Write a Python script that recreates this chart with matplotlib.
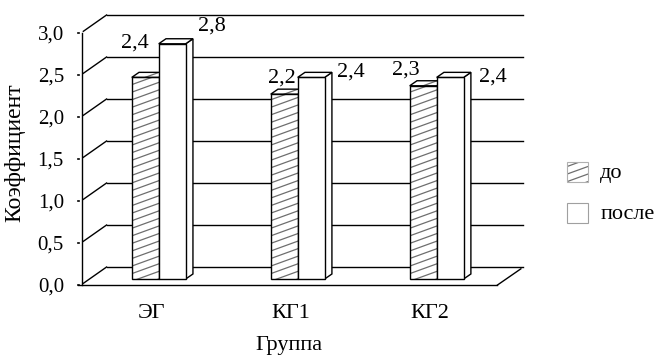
import matplotlib
matplotlib.use("Agg")
import matplotlib.pyplot as plt
from matplotlib.patches import Polygon
import numpy as np

grupos = ["ЭГ", "КГ1", "КГ2"]
do_vals = [2.4, 2.2, 2.3]
posle_vals = [2.8, 2.4, 2.4]
serii = ["до", "после"]
yticks = [0.0, 0.5, 1.0, 1.5, 2.0, 2.5, 3.0]

plt.rcParams["font.family"] = ["Liberation Serif", "DejaVu Serif"]

# глубина "3D" коробки в единицах осей
DX, DY = 0.187, 0.214
D0, BD = 1 / 3, 0.28      # где стоят столбики и их толщина
W = 0.194                 # ширина столбика
HATCH_SLOPE, HATCH_STEP = 0.6, 0.09

fig = plt.figure(figsize=(6.62, 3.6), dpi=100)
ax = fig.add_axes([70 / 662, 70 / 360, 460 / 662, 285 / 360])
ax.set_xlim(-0.576, 2.734)
ax.set_ylim(-0.0595, 3.333)
ax.axis("off")

lw = 1.0
x0, x1 = -0.5, len(grupos) - 0.5


def fmt(v):
    return f"{v:.1f}".replace(".", ",")


# задняя стенка и боковая стенка
for v in yticks:
    ax.plot([x0 + DX, x1 + DX], [v + DY, v + DY], color="black", lw=lw, zorder=1)
    ax.plot([x0 + 0.02, x0 + DX], [v + 0.02, v + DY], color="black", lw=lw, zorder=1)
    ax.plot([x0 - 0.022, x0 - 0.01], [v, v], color="black", lw=1.2, zorder=1)
    ax.text(x0 - 0.12, v, fmt(v), ha="right", va="center_baseline", fontsize=15)

# пол и передняя ось
ax.plot([x0 - 0.02, x1], [0, 0], color="black", lw=lw, zorder=1)
ax.plot([x1, x1 + DX * 0.9], [0, DY * 0.9], color="black", lw=lw, zorder=1)
ax.plot([x0 + 0.01, x0 + 0.01], [0, 3.0], color="black", lw=lw, zorder=1)


def hatch(poly_xy, z, edge="black", elw=lw):
    poly = Polygon(poly_xy, closed=True, facecolor="white", edgecolor="none", zorder=z)
    ax.add_patch(poly)
    xs, ys = zip(*poly_xy)
    xa, xb = min(xs), max(xs)
    ya, yb = min(ys) - HATCH_SLOPE * (xb - xa), max(ys)
    for c in np.arange(ya, yb + HATCH_STEP, HATCH_STEP):
        ln, = ax.plot([xa, xb], [c, c + HATCH_SLOPE * (xb - xa)], color="#6e6e6e",
                      lw=0.9, zorder=z + 0.1)
        ln.set_clip_box(None)
        ln.set_clip_path(poly)
    ax.add_patch(Polygon(poly_xy, closed=True, fill=False, edgecolor=edge,
                         lw=elw, zorder=z + 0.2, clip_on=False))


def bar3d(xl, v, hatched, z):
    sx, sy = D0 * DX, D0 * DY
    bx, by = BD * DX, BD * DY
    front = [(xl + sx, sy), (xl + W + sx, sy), (xl + W + sx, v + sy), (xl + sx, v + sy)]
    top = [(xl + sx, v + sy), (xl + W + sx, v + sy),
           (xl + W + sx + bx, v + sy + by), (xl + sx + bx, v + sy + by)]
    side = [(xl + W + sx, sy), (xl + W + sx + bx, sy + by),
            (xl + W + sx + bx, v + sy + by), (xl + W + sx, v + sy)]
    ax.add_patch(Polygon(side, closed=True, facecolor="white", edgecolor="black",
                         lw=lw, zorder=z))
    if hatched:
        hatch(front, z + 1)
        hatch(top, z + 1)
    else:
        for p in (front, top):
            ax.add_patch(Polygon(p, closed=True, facecolor="white", edgecolor="black",
                                 lw=lw, zorder=z + 1))
    return xl + sx + W / 2, v + sy


# сдвиги подписей значений, в пикселях
off_do = [(-10, 34), (-2, 16), (-17, 16)]
off_posle = [(40, 18), (40, 5), (43, 0)]

for i, g in enumerate(grupos):
    cx, cy = bar3d(i - W, do_vals[i], True, 3)
    ax.annotate(fmt(do_vals[i]), (cx, cy), xytext=off_do[i],
                textcoords="offset pixels", ha="center", va="center", fontsize=16)
    cx, cy = bar3d(i, posle_vals[i], False, 6)
    ax.annotate(fmt(posle_vals[i]), (cx, cy), xytext=off_posle[i],
                textcoords="offset pixels", ha="center", va="center", fontsize=16)
    ax.text(i + 0.01, -0.39, g, ha="center", va="baseline", fontsize=16)

ax.text(1.0, -0.77, "Группа", ha="center", va="baseline", fontsize=16)
ax.text(-0.97, 1.57, "Коэффициент", ha="center", va="center", rotation=90, fontsize=17)

# легенда
lx = 3.0
hatch([(lx, 1.23), (lx + 0.15, 1.23), (lx + 0.15, 1.47), (lx, 1.47)], 10,
      edge="#b0b0b0", elw=0.8)
ax.add_patch(Polygon([(lx, 0.74), (lx + 0.15, 0.74), (lx + 0.15, 0.98), (lx, 0.98)],
                     closed=True, facecolor="white", edgecolor="#a0a0a0", lw=0.8,
                     clip_on=False))
ax.text(lx + 0.24, 1.27, serii[0], ha="left", va="baseline", fontsize=16)
ax.text(lx + 0.24, 0.78, serii[1], ha="left", va="baseline", fontsize=16)

for art in ax.texts:
    art.set_clip_on(False)

fig.savefig("out.png", dpi=100)
